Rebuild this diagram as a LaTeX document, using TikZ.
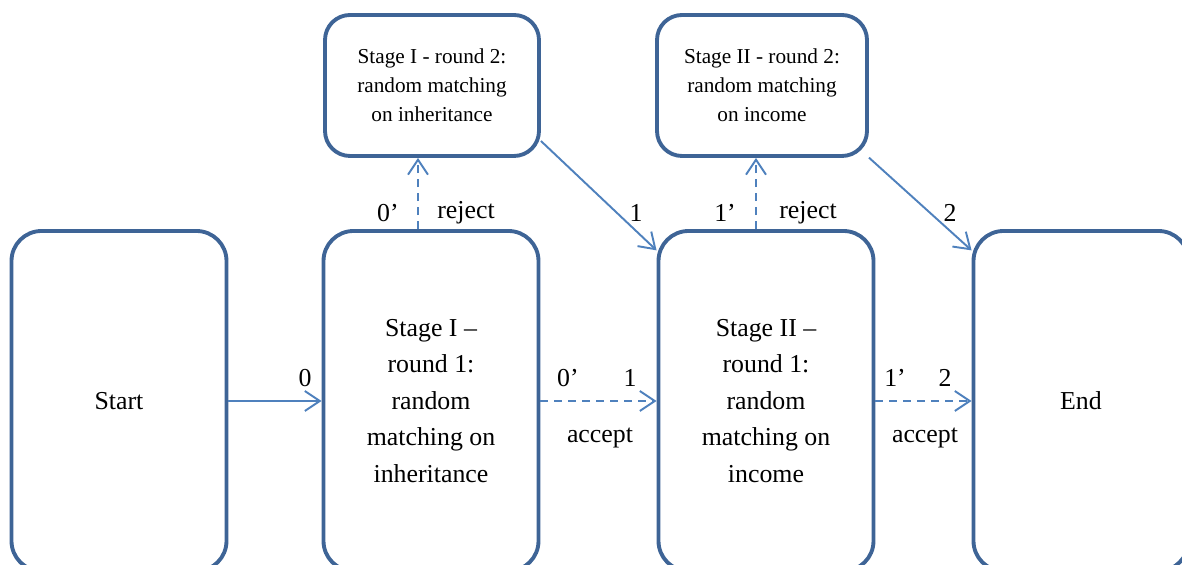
\documentclass[tikz,border=0pt]{standalone}
\usepackage{fontspec}
\setmainfont{Liberation Serif}
\usetikzlibrary{arrows.meta}
\definecolor{boxblue}{HTML}{3E6496}
\definecolor{arrowblue}{HTML}{4F81BD}

\begin{document}
\begin{tikzpicture}[
  stagebox/.style={draw=boxblue,line width=2.2pt,rounded corners=0.6cm,minimum width=4.3cm,minimum height=6.8cm,align=center,font=\fontsize{14.7}{20.8}\selectfont},
  roundbox/.style={draw=boxblue,line width=2.2pt,rounded corners=0.5cm,minimum height=2.82cm,align=center,font=\fontsize{12.1}{16.5}\selectfont},
  link/.style={draw=arrowblue,line width=1.1pt,-{Straight Barb[length=0.3cm,width=0.4cm]}},
  choice/.style={link,dash pattern=on 0.16cm off 0.12cm},
  lab/.style={font=\fontsize{14.7}{17}\selectfont}
]
\useasboundingbox (0,0) rectangle (23.64,11.3);
\node[stagebox] (start) at (2.38,3.28){Start};
\node[stagebox] (s1) at (8.62,3.28){Stage I --\\round 1:\\random\\matching on\\inheritance};
\node[stagebox] (s2) at (15.32,3.28){Stage II --\\round 1:\\random\\matching on\\income};
\node[stagebox] (finish) at (21.62,3.28){End};
\node[roundbox,minimum width=4.28cm] (r2a) at (8.64,9.59){Stage I - round 2:\\random matching\\on inheritance};
\node[roundbox,minimum width=4.2cm] (r2b) at (15.24,9.59){Stage II - round 2:\\random matching\\on income};

\draw[link] (start) -- (s1);
\foreach \from/\to in {s1/s2,s2/finish}
  \draw[choice] (\from) -- (\to);
\draw[choice] ([xshift=-0.26cm]s1.north) -- ([xshift=-0.26cm]s1.north |- r2a.south);
\draw[choice] ([xshift=-0.2cm]s2.north) -- ([xshift=-0.2cm]s2.north |- r2b.south);
\draw[link] (r2a.-27) -- (s2.126);
\draw[link] (r2b.-34) -- (finish.126);

\foreach \x/\y/\txt [count=\i] in {6.10/3.74/0,11.36/3.74/0',12.60/3.74/1,12.00/2.54/accept,
  17.90/3.74/1',18.90/3.74/2,18.50/2.54/accept,7.76/7.04/0',9.32/7.04/reject,
  12.72/7.04/1,14.50/7.04/1',16.16/7.04/reject,19.00/7.04/2}
  \node[lab] (lab\i) at (\x,\y){\txt};
\end{tikzpicture}
\end{document}
